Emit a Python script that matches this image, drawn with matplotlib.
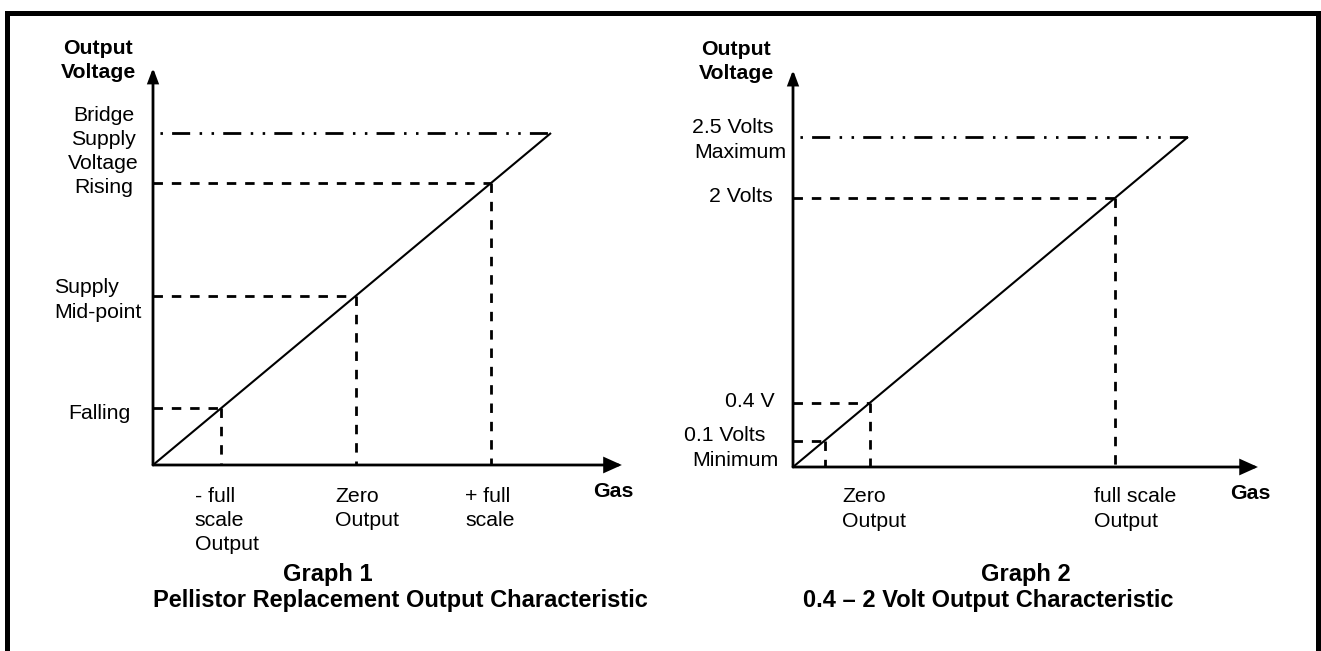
import matplotlib
matplotlib.use("Agg")
import matplotlib.pyplot as plt
from matplotlib.patches import Rectangle

plt.rcParams['font.family'] = ['Liberation Sans', 'DejaVu Sans']

# ---------------- data (relative units: 1.0 = top / maximum level) ----------------
# Graph 1: Pellistor replacement output characteristic
g1_char_x = [0.0, 1.0]
g1_char_y = [0.0, 1.0]
g1_top = 1.0                                   # bridge supply voltage (dash-dot)
g1_marks = [0.172, 0.51, 0.85]                 # falling, mid-point, rising
g1_ylabels = ['Falling', 'Supply\nMid-point', 'Bridge\nSupply\nVoltage\nRising']
g1_xlabels = ['- full\nscale\nOutput', 'Zero\nOutput', '+ full\nscale']
g1_caption = ['Graph 1', 'Pellistor Replacement Output Characteristic']

# Graph 2: 0.4 - 2 V output characteristic
g2_char_x = [0.0, 1.0]
g2_char_y = [0.0, 1.0]
g2_top = 1.0                                   # 2.5 V maximum (dash-dot)
g2_marks = [0.08, 0.195, 0.815]                # 0.1 V, 0.4 V, 2 V
g2_toplabel = ['2.5 Volts', 'Maximum']
g2_ylabels = ['0.1 Volts\nMinimum', '0.4 V', '2 Volts']
g2_xlabels = ['Zero\nOutput', 'full scale\nOutput']   # at 0.4 V and 2 V points
g2_caption = ['Graph 2', '0.4 \u2013 2 Volt Output Characteristic']

axis_title = 'Output\nVoltage'
gas_label = 'Gas'

# ---------------- layout ----------------
W, H, DPI = 1321, 651, 100
PT = 72.0 / DPI
FS = 15.3      # regular label size
FSB = 15.3     # bold axis labels
FSC = 17.0     # captions
LW = 2.0

fig = plt.figure(figsize=(W / DPI, H / DPI), dpi=DPI)
fig.patch.set_facecolor('white')

# outer frame (bottom edge falls outside the picture)
fig.add_artist(Rectangle((6.5 / W, -20.0 / H), (1318 - 6.5) / W, (H - 12.5 + 20) / H,
                         transform=fig.transFigure, fill=False, lw=5 * PT,
                         edgecolor='black', joinstyle='miter'))


def make_axes(origin, unit):
    ox, oy = origin
    ux, uy = unit
    lo, hi = -0.1, 1.3
    ax = fig.add_axes([(ox + lo * ux) / W, (H - oy + lo * uy) / H,
                       (hi - lo) * ux / W, (hi - lo) * uy / H])
    ax.set_xlim(lo, hi)
    ax.set_ylim(lo, hi)
    ax.axis('off')
    return ax


def txt(ax, anchor, s, dx, dy, ha, spacing=24.3, size=FS, weight='normal'):
    """Place multi-line text; dx, dy in pixels (dy = baseline of first line, up positive)."""
    for i, line in enumerate(s.split('\n')):
        ddx = dx[i] if isinstance(dx, (list, tuple)) else dx
        ax.annotate(line, xy=anchor, xycoords='data',
                    xytext=(ddx * PT, (dy - i * spacing) * PT), textcoords='offset points',
                    ha=ha, va='baseline', fontsize=size, fontweight=weight,
                    annotation_clip=False)


def arrow(ax, end, hl, hw):
    ax.annotate('', xy=end, xytext=(0, 0), xycoords='data',
                arrowprops=dict(arrowstyle=f'-|>,head_length={hl},head_width={hw}',
                                lw=LW, color='black', shrinkA=0, shrinkB=0,
                                mutation_scale=10, joinstyle='miter'),
                annotation_clip=False)


DASH = (0, (3.4, 3.2))
DASHDOT = (11.7, (6.5, 3.4, 0.9, 3.4, 0.9, 3.3))


def draw_graph(ax, cx, cy, top, marks, ytip, xtip):
    arrow(ax, (0, ytip), 0.8, 0.3)
    arrow(ax, (xtip, 0), 1.0, 0.45)
    ax.plot(cx, cy, color='black', lw=1.5, solid_capstyle='butt', clip_on=False)
    ax.plot([0, top], [top, top], color='black', lw=LW, linestyle=DASHDOT, clip_on=False)
    for v in marks:
        ax.plot([0, v], [v, v], color='black', lw=LW, linestyle=DASH, clip_on=False)
        ax.plot([v, v], [v, 0], color='black', lw=LW, linestyle=DASH, clip_on=False)


# ---------------- Graph 1 ----------------
ax1 = make_axes((153, 465), (398, 332))
Y1TIP, X1TIP = 1.196, 1.178
draw_graph(ax1, g1_char_x, g1_char_y, g1_top, g1_marks, Y1TIP, X1TIP)

txt(ax1, (0, Y1TIP), axis_title, -55, 14, 'center', spacing=24, size=FSB, weight='bold')
txt(ax1, (0, g1_marks[2]), g1_ylabels[2], -49.5, 62.1, 'center', spacing=24)
txt(ax1, (0, g1_marks[1]), g1_ylabels[1], -99, 2.7, 'left', spacing=25)
txt(ax1, (0, g1_marks[0]), g1_ylabels[0], -23, -10.7, 'right')
txt(ax1, (g1_marks[0], 0), g1_xlabels[0], -26.7, -36.7, 'left', spacing=24.2)
txt(ax1, (g1_marks[1], 0), g1_xlabels[1], -21, -36.7, 'left', spacing=24.2)
txt(ax1, (g1_marks[2], 0), g1_xlabels[2], -26.3, -36.7, 'left', spacing=24.2)
txt(ax1, (X1TIP, 0), gas_label, -29, -31.7, 'left', size=FSB, weight='bold')
txt(ax1, (0, 0), g1_caption[0], 175, -115.7, 'center', size=FSC, weight='bold')
txt(ax1, (0, 0), g1_caption[1], 247.5, -142, 'center', size=FSC, weight='bold')

# ---------------- Graph 2 ----------------
ax2 = make_axes((793, 467), (395, 330))
Y2TIP, X2TIP = 1.203, 1.177
draw_graph(ax2, g2_char_x, g2_char_y, g2_top, g2_marks, Y2TIP, X2TIP)

txt(ax2, (0, Y2TIP), axis_title, -57, 15, 'center', spacing=24, size=FSB, weight='bold')
txt(ax2, (0, g2_top), '\n'.join(g2_toplabel), [-20, -7], 3.7, 'right', spacing=25)
txt(ax2, (0, g2_marks[2]), g2_ylabels[2], -20, -4.3, 'right')
txt(ax2, (0, g2_marks[1]), g2_ylabels[1], -18.5, -4.7, 'right')
txt(ax2, (0, g2_marks[0]), g2_ylabels[0], [-28, -14.3], 0, 'right', spacing=25)
txt(ax2, (g2_marks[1], 0), g2_xlabels[0], -28, -34.7, 'left', spacing=25)
txt(ax2, (g2_marks[2], 0), g2_xlabels[1], -21, -34.7, 'left', spacing=25)
txt(ax2, (X2TIP, 0), gas_label, -28, -32, 'left', size=FSB, weight='bold')
txt(ax2, (0, 0), g2_caption[0], 233, -113.7, 'center', size=FSC, weight='bold')
txt(ax2, (0, 0), g2_caption[1], 195, -140, 'center', size=FSC, weight='bold')

fig.savefig('out.png', dpi=DPI, facecolor='white')
